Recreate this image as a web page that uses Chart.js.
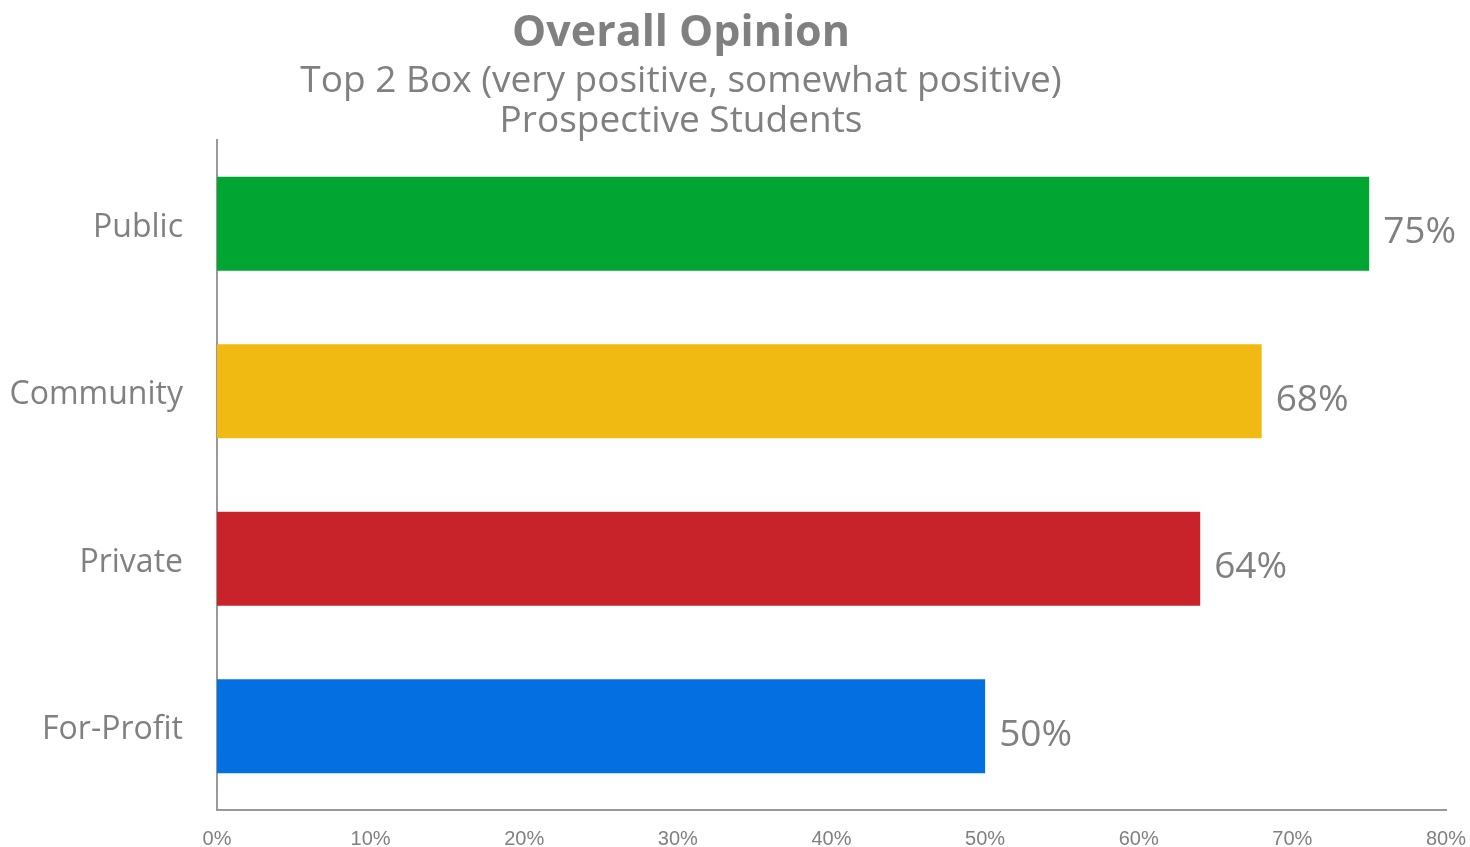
<!DOCTYPE html>
<html>
<head>
<meta charset="utf-8">
<script src="https://cdn.jsdelivr.net/npm/chart.js@4"></script>
<style>
html,body{margin:0;padding:0;background:#fff;}
#wrap{width:1470px;height:847px;position:relative;}
</style>
</head>
<body>
<div id="wrap"><canvas id="c" width="1470" height="847"></canvas></div>
<script>
const titleText = "Overall Opinion";
const subtitleLines = ["Top 2 Box (very positive, somewhat positive)", "Prospective Students"];
const categories = ["Public", "Community", "Private", "For-Profit"];
const values = [75, 68, 64, 50];
const barColors = ["#00a532", "#f0ba13", "#c8222a", "#046fe0"];
const xTicks = [0, 10, 20, 30, 40, 50, 60, 70, 80];

const GRAY = "#808080";

const titlePlugin = {
  id: "customTitle",
  afterDraw(chart) {
    const ctx = chart.ctx;
    ctx.save();
    ctx.fillStyle = GRAY;
    ctx.textAlign = "center";
    ctx.textBaseline = "alphabetic";
    const cx = 681;
    ctx.font = "bold 43px 'Open Sans'";
    ctx.fillText(titleText, cx, 46);
    ctx.font = "37px 'Open Sans'";
    ctx.fillText(subtitleLines[0], cx, 92);
    ctx.fillText(subtitleLines[1], cx, 132);
    ctx.restore();
  }
};

const valueLabels = {
  id: "valueLabels",
  afterDatasetsDraw(chart) {
    const ctx = chart.ctx;
    const meta = chart.getDatasetMeta(0);
    ctx.save();
    ctx.fillStyle = GRAY;
    ctx.font = "37px 'Open Sans'";
    ctx.textAlign = "left";
    ctx.textBaseline = "middle";
    meta.data.forEach((bar, i) => {
      ctx.fillText(values[i] + "%", bar.x + 14, bar.y + 9);
    });
    ctx.restore();
  }
};

new Chart(document.getElementById("c"), {
  type: "bar",
  data: {
    labels: categories,
    datasets: [{
      data: values,
      backgroundColor: barColors,
      borderWidth: 0,
      barPercentage: 0.56,
      categoryPercentage: 1.0
    }]
  },
  options: {
    indexAxis: "y",
    responsive: false,
    animation: false,
    devicePixelRatio: 1,
    layout: { padding: { top: 140, right: 0, left: 0, bottom: 0 } },
    plugins: {
      legend: { display: false },
      tooltip: { enabled: false },
      title: { display: false }
    },
    scales: {
      x: {
        min: 0, max: 80,
        afterBuildTicks(scale) { scale.ticks = xTicks.map(v => ({ value: v })); },
        afterFit(scale) {
          scale.height = 37;
          scale.paddingLeft = 0;
          scale.paddingRight = 24;
        },
        grid: { display: false, drawTicks: false },
        border: { display: true, color: "#999999", width: 2 },
        ticks: {
          color: GRAY,
          padding: 17,
          font: { family: "'Liberation Sans', Arial", size: 20 },
          callback: (v) => v + "%",
          maxRotation: 0
        }
      },
      y: {
        afterFit(scale) {
          scale.width = 217;
          scale.paddingTop = 0;
          scale.paddingBottom = 0;
        },
        grid: { display: false, drawTicks: false },
        border: { display: true, color: "#999999", width: 2 },
        ticks: {
          color: GRAY,
          padding: 34,
          labelOffset: 4,
          font: { family: "'Open Sans'", size: 32 }
        }
      }
    }
  },
  plugins: [titlePlugin, valueLabels]
});
</script>
</body>
</html>
